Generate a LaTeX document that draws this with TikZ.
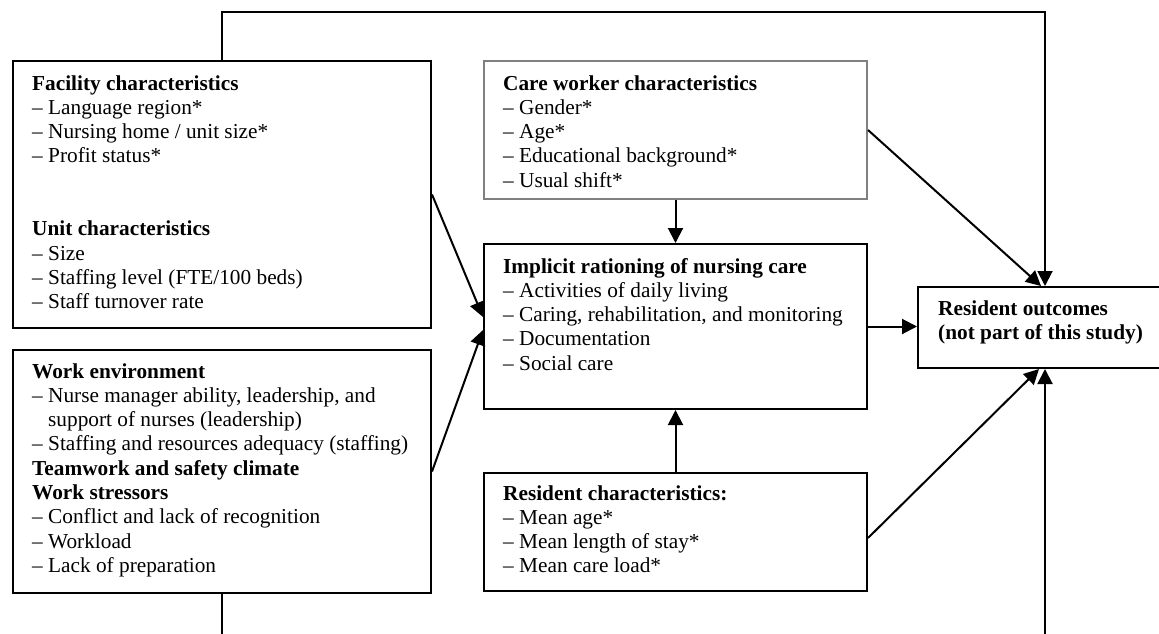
\documentclass[tikz,border=0pt]{standalone}
\usepackage{fontspec}
\setmainfont{Liberation Serif}
\usetikzlibrary{arrows.meta}

\begin{document}
\begin{tikzpicture}[x=1pt,y=-1pt,
  box/.style = {draw,line width=2pt,anchor=north west,inner sep=0pt},
  txt/.style = {anchor=base west,align=left,inner sep=0pt,font=\fontsize{21.3pt}{24.3pt}\selectfont},
  link/.style = {line width=2pt,-{Triangle[length=15pt,width=15pt]}}]
\useasboundingbox (0,0) rectangle (1159,634);
\clip (0,0) rectangle (1159,634);

\coordinate (t_y) at (0,12);
\coordinate (b_y) at (0,660);

\node[box,minimum width=418pt,minimum height=267pt] (fac) at (12,60) {};
\node[box,minimum width=418pt,minimum height=243pt] (work) at (12,349) {};
\node[box,draw=black!50,minimum width=383pt,minimum height=138pt] (care) at (483,60) {};
\node[box,minimum width=383pt,minimum height=165pt] (impl) at (483,243) {};
\node[box,minimum width=383pt,minimum height=118pt] (res) at (483,472) {};
\node[box,minimum width=254pt,minimum height=81pt] (out) at (917,286) {};

\node[txt] (fac_t) at (32,308.7) {\textbf{Facility characteristics}\\
-- Language region*\\
-- Nursing home / unit size*\\
-- Profit status*\\[48.6pt]
\textbf{Unit characteristics}\\
-- Size\\
-- Staffing level (FTE/100 beds)\\
-- Staff turnover rate};

\node[txt] (work_t) at (32,572.4) {\textbf{Work environment}\\
-- Nurse manager ability, leadership, and\\
\hphantom{--~}support of nurses (leadership)\\
-- Staffing and resources adequacy (staffing)\\
\textbf{Teamwork and safety climate}\\
\textbf{Work stressors}\\
-- Conflict and lack of recognition\\
-- Workload\\
-- Lack of preparation};

\node[txt] (care_t) at (503,187.2) {\textbf{Care worker characteristics}\\
-- Gender*\\
-- Age*\\
-- Educational background*\\
-- Usual shift*};

\node[txt] (impl_t) at (503,370.2) {\textbf{Implicit rationing of nursing care}\\
-- Activities of daily living\\
-- Caring, rehabilitation, and monitoring\\
-- Documentation\\
-- Social care};

\node[txt] (res_t) at (503,572.9) {\textbf{Resident characteristics:}\\
-- Mean age*\\
-- Mean length of stay*\\
-- Mean care load*};

\node[txt] (out_t) at (938,339.3) {\textbf{Resident outcomes}\\
\textbf{(not part of this study)}};

\draw[link] (fac.north) -- (fac.north |- t_y) -| (out.north);
\draw[link] (work.south) -- (work.south |- b_y) -| (out.south);
\draw[link] (care.east) -- ([xshift=-4pt]out.north);
\draw[link] (impl.east) -- (impl.east -| out.west);
\draw[link] ([yshift=-6pt]res.east) -- ([xshift=-6pt]out.south);
\draw[link] (care.south) -- (impl.north);
\draw[link] (res.north) -- (impl.south);
\draw[link] (fac.east) -- ([yshift=9.5pt]impl.west);
\draw[link] (work.east) -- ([yshift=-3.5pt]impl.west);

\end{tikzpicture}
\end{document}
